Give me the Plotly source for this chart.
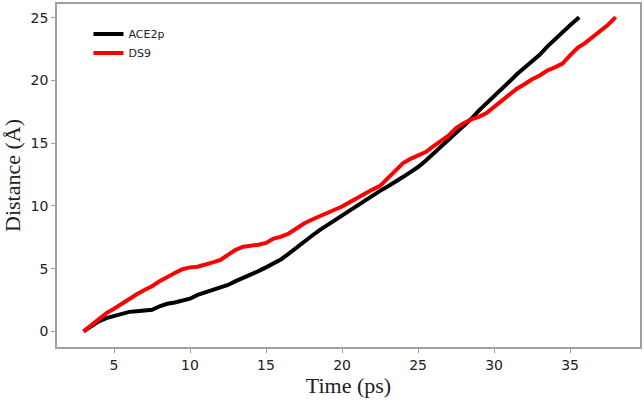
import plotly.graph_objects as go

ace2p_x = [3.0, 3.5, 4.0, 4.5, 5.0, 5.5, 6.0, 6.5, 7.0, 7.5, 8.0, 8.5, 9.0, 9.5, 10.0,
           10.5, 11.0, 11.5, 12.0, 12.5, 13.0, 13.5, 14.0, 14.5, 15.0, 15.5, 16.0, 16.5,
           17.0, 17.5, 18.0, 18.5, 19.0, 19.5, 20.0, 20.5, 21.0, 21.5, 22.0, 22.5, 23.0,
           23.5, 24.0, 24.5, 25.0, 25.5, 26.0, 26.5, 27.0, 27.5, 28.0, 28.5, 29.0, 29.5,
           30.0, 30.5, 31.0, 31.5, 32.0, 32.5, 33.0, 33.5, 34.0, 34.5, 35.0, 35.6]
ace2p_y = [0.0, 0.4, 0.8, 1.05, 1.2, 1.35, 1.55, 1.6, 1.65, 1.72, 2.0, 2.2, 2.3, 2.45, 2.6,
           2.9, 3.1, 3.25, 3.45, 3.7, 4.0, 4.25, 4.5, 4.8, 5.1, 5.45, 5.75, 6.2,
           6.7, 7.15, 7.6, 8.05, 8.45, 8.85, 9.2, 9.6, 10.0, 10.4, 10.8, 11.2, 11.55,
           11.9, 12.3, 12.7, 13.1, 13.6, 14.15, 14.75, 15.3, 15.85, 16.4, 16.95, 17.6, 18.15,
           18.7, 19.26, 19.9, 20.5, 21.0, 21.45, 22.05, 22.7, 23.3, 23.85, 24.4, 25.05]

ds9_x = [3.0, 3.5, 4.0, 4.5, 5.0, 5.5, 6.0, 6.5, 7.0, 7.5, 8.0, 8.5, 9.0, 9.5, 10.0,
         10.5, 11.0, 11.5, 12.0, 12.5, 13.0, 13.5, 14.0, 14.5, 15.0, 15.5, 16.0, 16.5,
         17.0, 17.5, 18.0, 18.5, 19.0, 19.5, 20.0, 20.5, 21.0, 21.5, 22.0, 22.5, 23.0,
         23.5, 24.0, 24.5, 25.0, 25.5, 26.0, 26.5, 27.0, 27.5, 28.0, 28.5, 29.0, 29.5,
         30.0, 30.5, 31.0, 31.5, 32.0, 32.5, 33.0, 33.5, 34.0, 34.5, 35.0, 35.5, 36.0,
         36.5, 37.0, 37.5, 38.0]
ds9_y = [0.0, 0.5, 0.95, 1.45, 1.8, 2.2, 2.6, 2.95, 3.3, 3.6, 4.0, 4.35, 4.65, 4.95, 5.1,
         5.15, 5.3, 5.5, 5.7, 6.1, 6.5, 6.75, 6.8, 6.9, 7.05, 7.4, 7.55, 7.8,
         8.2, 8.6, 8.9, 9.15, 9.4, 9.7, 9.95, 10.3, 10.65, 11.0, 11.3, 11.6, 12.2,
         12.9, 13.4, 13.75, 14.05, 14.3, 14.75, 15.15, 15.6, 16.2, 16.6, 16.9, 17.1, 17.4,
         17.9, 18.45, 18.9, 19.35, 19.7, 20.1, 20.4, 20.8, 21.05, 21.35, 22.0, 22.6, 23.0,
         23.45, 23.9, 24.45, 25.05]

x_ticks = [5, 10, 15, 20, 25, 30, 35]
y_ticks = [0, 5, 10, 15, 20, 25]

fig = go.Figure()
fig.add_trace(go.Scatter(x=ace2p_x, y=ace2p_y, mode="lines", name="ACE2p",
                         line=dict(color="black", width=4)))
fig.add_trace(go.Scatter(x=ds9_x, y=ds9_y, mode="lines", name="DS9",
                         line=dict(color="#ff0000", width=4)))

axis_common = dict(showline=True, mirror=True, linecolor="#a0a0a0", linewidth=1.5,
                   ticks="outside", ticklen=4, tickcolor="#a0a0a0", showgrid=False,
                   zeroline=False,
                   tickfont=dict(family="DejaVu Sans", size=14, color="#222222"))

fig.update_layout(
    width=644, height=400,
    margin=dict(l=57, r=2, t=2, b=53),
    paper_bgcolor="white", plot_bgcolor="white",
    showlegend=True,
    legend=dict(x=0.054, y=0.955, xanchor="left", yanchor="top",
                bgcolor="rgba(0,0,0,0)", tracegroupgap=0,
                font=dict(family="DejaVu Sans", size=11, color="#222222")),
    xaxis=dict(range=[1.25, 39.6], tickvals=x_ticks,
               title=dict(text="Time (ps)", standoff=5,
                          font=dict(family="Liberation Serif", size=22, color="#222222")),
               **axis_common),
    yaxis=dict(range=[-1.25, 26.1], tickvals=y_ticks,
               title=dict(text="Distance (Å)", standoff=10,
                          font=dict(family="Liberation Serif", size=22, color="#222222")),
               **axis_common),
)

fig.write_html("out.html", config={"displayModeBar": False},
               post_script="document.body.style.margin='0';document.body.style.overflow='hidden';")
